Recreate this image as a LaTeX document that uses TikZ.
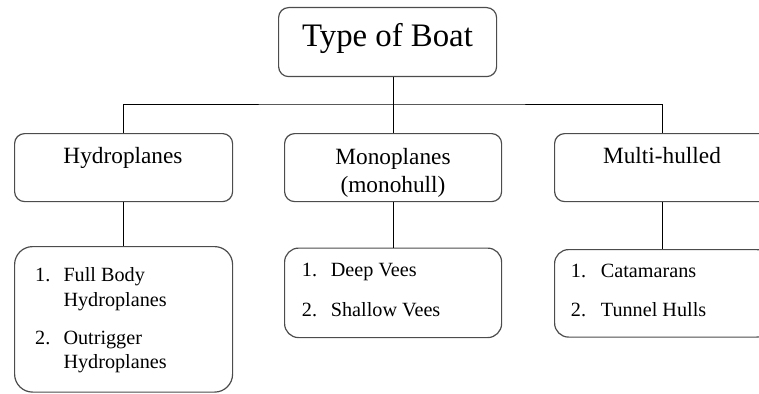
\documentclass[tikz,border=0pt]{standalone}
\usepackage{fontspec}
\setmainfont{Liberation Serif}
\begin{document}
\begin{tikzpicture}[x=1pt,y=-1pt,
  box/.style={draw=black!70,line width=1.2pt,rounded corners=#1,inner sep=0pt,anchor=north west},
  box/.default=10pt,
  conn/.style={draw=black,line width=0.9pt},
  ttl/.style={inner sep=0pt,anchor=base,font=\fontsize{32.8}{38}\selectfont},
  lvl/.style={inner sep=0pt,anchor=base,font=\fontsize{23.3}{27}\selectfont},
  itm/.style={inner sep=0pt,anchor=base west,font=\fontsize{20.2}{24}\selectfont}]
\useasboundingbox (0,0) rectangle (759,393);
% boxes
\node[box,minimum width=218pt,minimum height=69pt] (top) at (278,7) {};
\node[box,minimum width=218pt,minimum height=68pt] (hyd) at (14,133) {};
\node[box,minimum width=217pt,minimum height=68pt] (mon) at (284,133) {};
\node[box,minimum width=216pt,minimum height=68pt] (mul) at (554,133) {};
\node[box=18pt,minimum width=218pt,minimum height=145.5pt] (hl) at (14,246) {};
\node[box=14pt,minimum width=217pt,minimum height=89.5pt] (ml) at (284,247.5) {};
\node[box=14pt,minimum width=216pt,minimum height=87.5pt] (cl) at (554,249) {};
% texts
\node[ttl] (tt) at (387.5,47) {Type of Boat};
\node[lvl] (th) at (123,163) {Hydroplanes};
\node[lvl] (tm1) at (393,164) {Monoplanes};
\node[lvl] (tm2) at (393,192) {(monohull)};
\node[lvl] (tc) at (662,163) {Multi-hulled};
\node[itm] (h1n) at (35,281.7) {1.};
\node[itm] (h1a) at (63.3,281.7) {Full Body};
\node[itm] (h1b) at (63.3,306) {Hydroplanes};
\node[itm] (h2n) at (35,344) {2.};
\node[itm] (h2a) at (63.3,344) {Outrigger};
\node[itm] (h2b) at (63.3,368.3) {Hydroplanes};
\node[itm] (m1n) at (301.7,276.7) {1.};
\node[itm] (m1) at (330.7,276.7) {Deep Vees};
\node[itm] (m2n) at (301.7,316) {2.};
\node[itm] (m2) at (330.7,316) {Shallow Vees};
\node[itm] (c1n) at (570.7,277.3) {1.};
\node[itm] (c1) at (600.7,277.3) {Catamarans};
\node[itm] (c2n) at (570.7,316.7) {2.};
\node[itm] (c2) at (600.7,316.7) {Tunnel Hulls};
% connectors
\coordinate (bus) at (391,104);
\draw[conn] (top.south -| mon.north) -- (mon.north);
\draw[conn] (hyd.north) |- (bus) -| (mul.north);
\draw[conn] (hyd.south) -- (hl.north);
\draw[conn] (mon.south) -- (ml.north);
\draw[conn] (mul.south) -- (cl.north);
\end{tikzpicture}
\end{document}
